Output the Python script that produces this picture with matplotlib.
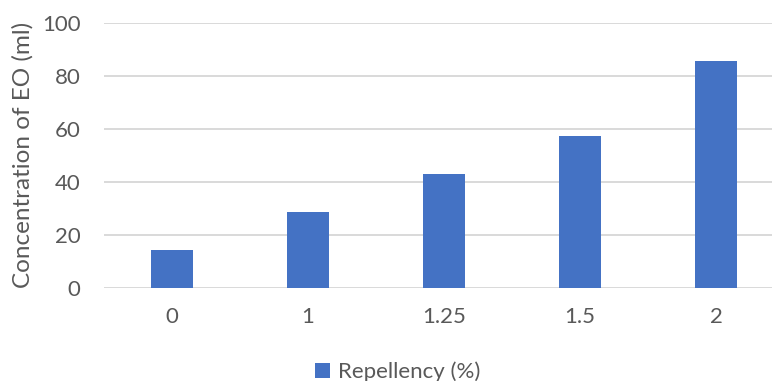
import matplotlib
matplotlib.use("Agg")
import matplotlib.pyplot as plt
import numpy as np

# data
categories = ["0", "1", "1.25", "1.5", "2"]
repellency = [14.3, 28.6, 42.9, 57.1, 85.7]

plt.rcParams['font.family'] = ['Lato', 'DejaVu Sans']

fig = plt.figure(figsize=(7.72, 3.81), dpi=100)
ax = fig.add_axes([104/772, 1 - 287.5/381, 1 - 104/772, (287.5 - 23)/381])

x = np.arange(len(categories))
ax.bar(x, repellency, width=0.316, color="#4472C4", label="Repellency (%)", zorder=3)

ax.set_ylim(0, 100)
ax.set_yticks(range(0, 101, 20))
ax.set_xlim(-0.5, 4.5 - 12/136)
ax.set_xticks(x)
ax.set_xticklabels(categories)

ax.grid(axis="y", color="#D9D9D9", linewidth=1.4, zorder=0)
for s in ax.spines.values():
    s.set_visible(False)
ax.tick_params(axis="both", length=0, labelsize=16, labelcolor="#595959")
ax.tick_params(axis="y", pad=17)
ax.tick_params(axis="x", pad=14)

ax.set_ylabel("Concentration of EO (ml)", fontsize=17.5, color="#595959")
ax.yaxis.set_label_coords(-(104 - 34)/668, 0.5)

leg = fig.legend(loc="center", bbox_to_anchor=(398/772, 1 - 372/381), frameon=False,
                 fontsize=16, handlelength=0.65, handleheight=0.65, handletextpad=0.4)
for t in leg.get_texts():
    t.set_color("#595959")

fig.savefig("out.png", dpi=100)
